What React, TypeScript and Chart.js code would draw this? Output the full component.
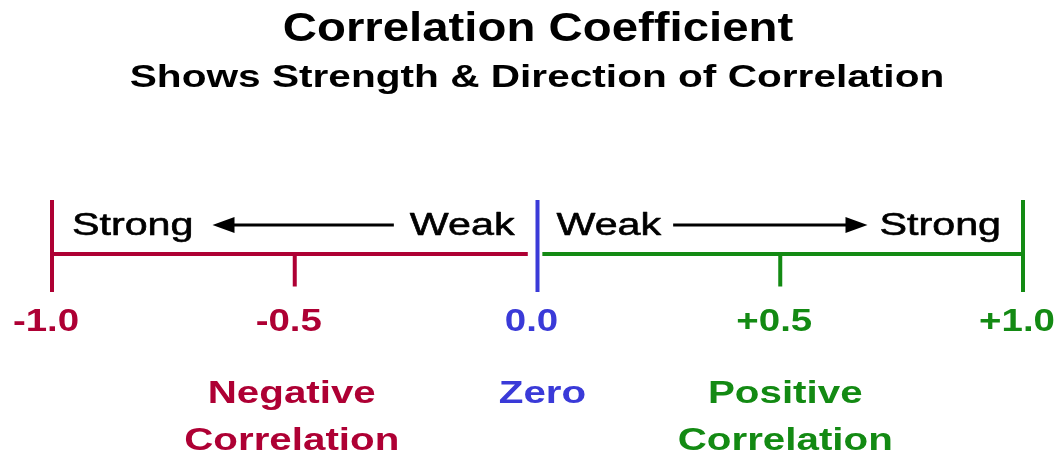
import React, { useEffect, useRef } from "react";
import { Chart, registerables } from "chart.js";

Chart.register(...registerables);

// ---- data ----
const TITLE = "Correlation Coefficient";
const SUBTITLE = "Shows Strength & Direction of Correlation";
const TICK_VALUES = [-1, -0.5, 0, 0.5, 1];
const TICK_LABELS = ["-1.0", "-0.5", "0.0", "+0.5", "+1.0"];
const TICK_TOP = [1, 0, 1, 0, 1];
const TICK_BOTTOM = [-0.7, -0.6, -0.7, -0.6, -0.7];
const NEGATIVE_RANGE = [-1, -0.02];
const POSITIVE_RANGE = [0.01, 1];
const ZONE_VALUES = [-0.5, 0, 0.5];
const ZONE_LABELS = [["Negative", "Correlation"], ["Zero"], ["Positive", "Correlation"]];
const STRONG_WORD = "Strong";
const WEAK_WORD = "Weak";

// ---- styles ----
const RED = "#AE0034";
const BLUE = "#3A3AD8";
const GREEN = "#138A13";
const TICK_COLORS = [RED, RED, BLUE, GREEN, GREEN];
const ZONE_COLORS = [RED, BLUE, GREEN];
const ZONE_DX = [-3, 5, 5];
const FAMILY = '"Liberation Sans", Arial, Helvetica, sans-serif';

function drawText(ctx: CanvasRenderingContext2D, text: string, x: number, y: number, align: CanvasTextAlign, font: string, color: string, sx: number, strokeW = 0) {
  ctx.save();
  ctx.font = font;
  ctx.fillStyle = color;
  ctx.strokeStyle = color;
  ctx.textAlign = align;
  ctx.textBaseline = "alphabetic";
  ctx.translate(x, y);
  ctx.scale(sx, 1);
  ctx.fillText(text, 0, 0);
  if (strokeW > 0) {
    ctx.lineWidth = strokeW;
    ctx.lineJoin = "round";
    ctx.strokeText(text, 0, 0);
  }
  ctx.restore();
}

function textWidth(ctx: CanvasRenderingContext2D, text: string, font: string, sx: number) {
  ctx.save();
  ctx.font = font;
  const w = ctx.measureText(text).width * sx;
  ctx.restore();
  return w;
}

function arrow(ctx: CanvasRenderingContext2D, x1: number, x2: number, y: number, headAtStart: boolean) {
  const head = 22;
  const half = 8;
  ctx.save();
  ctx.strokeStyle = "#000";
  ctx.fillStyle = "#000";
  ctx.lineWidth = 3;
  ctx.beginPath();
  if (headAtStart) {
    ctx.moveTo(x1 + head - 2, y);
    ctx.lineTo(x2, y);
  } else {
    ctx.moveTo(x1, y);
    ctx.lineTo(x2 - head + 2, y);
  }
  ctx.stroke();
  ctx.beginPath();
  if (headAtStart) {
    ctx.moveTo(x1, y);
    ctx.lineTo(x1 + head, y - half);
    ctx.lineTo(x1 + head, y + half);
  } else {
    ctx.moveTo(x2, y);
    ctx.lineTo(x2 - head, y - half);
    ctx.lineTo(x2 - head, y + half);
  }
  ctx.closePath();
  ctx.fill();
  ctx.restore();
}

const textPlugin = {
  id: "diagramText",
  afterDatasetsDraw(chart: any) {
    const ctx: CanvasRenderingContext2D = chart.ctx;
    const xs = chart.scales.x;
    const px = (v: number) => xs.getPixelForValue(v);
    const cx = chart.width / 2;

    drawText(ctx, TITLE, cx + 9, 41, "center", `bold 41px ${FAMILY}`, "#000", 1.155);
    drawText(ctx, SUBTITLE, cx + 8, 87, "center", `bold 31px ${FAMILY}`, "#000", 1.31);

    const wordFont = `31px ${FAMILY}`;
    const wsx = 1.33;
    const wStroke = 0.6;
    const wordY = 235;
    const arrowY = 225;
    const sW = textWidth(ctx, STRONG_WORD, wordFont, wsx);
    const wW = textWidth(ctx, WEAK_WORD, wordFont, wsx);
    // left side
    const lStrongX = px(-1) + 20;
    const lWeakRight = px(0) - 23;
    drawText(ctx, STRONG_WORD, lStrongX, wordY, "left", wordFont, "#000", wsx, wStroke);
    drawText(ctx, WEAK_WORD, lWeakRight, wordY, "right", wordFont, "#000", wsx, wStroke);
    arrow(ctx, lStrongX + sW + 19, lWeakRight - wW - 16, arrowY, true);
    // right side
    const rWeakX = px(0) + 19;
    const rStrongRight = px(1) - 22;
    drawText(ctx, WEAK_WORD, rWeakX, wordY, "left", wordFont, "#000", wsx, wStroke);
    drawText(ctx, STRONG_WORD, rStrongRight, wordY, "right", wordFont, "#000", wsx, wStroke);
    arrow(ctx, rWeakX + wW + 12, rStrongRight - sW - 12, arrowY, false);

    // tick labels
    const tickFont = `bold 32px ${FAMILY}`;
    TICK_VALUES.forEach((v, i) => {
      drawText(ctx, TICK_LABELS[i], px(v) - 6, 331, "center", tickFont, TICK_COLORS[i], 1.2);
    });

    // zone labels
    const zoneFont = `bold 32px ${FAMILY}`;
    ZONE_VALUES.forEach((v, i) => {
      ZONE_LABELS[i].forEach((line, j) => {
        drawText(ctx, line, px(v) + ZONE_DX[i], 403 + j * 47, "center", zoneFont, ZONE_COLORS[i], 1.26);
      });
    });
  },
};

export default function App() {
  const ref = useRef<HTMLCanvasElement | null>(null);
  useEffect(() => {
    if (!ref.current) return;
    let chart: Chart | null = null;
    let cancelled = false;
    const seg = (pts: { x: number; y: number }[], color: string) => ({
      data: pts,
      showLine: true,
      borderColor: color,
      backgroundColor: color,
      borderWidth: 4,
      pointRadius: 0,
      clip: false as any,
    });
    const build = () => {
      if (cancelled || !ref.current) return;
      const datasets: any[] = [
        seg(NEGATIVE_RANGE.map((x) => ({ x, y: 0 })), RED),
        seg(POSITIVE_RANGE.map((x) => ({ x, y: 0 })), GREEN),
        ...TICK_VALUES.map((v, i) =>
          seg([{ x: v, y: TICK_TOP[i] }, { x: v, y: TICK_BOTTOM[i] }], TICK_COLORS[i])
        ),
      ];
      chart = new Chart(ref.current, {
        type: "scatter",
        data: { datasets },
        options: {
          animation: false,
          responsive: false,
          events: [],
          layout: { padding: { left: 52, right: 35, top: 200, bottom: 165 } },
          plugins: { legend: { display: false }, tooltip: { enabled: false }, title: { display: false } },
          scales: {
            x: { type: "linear", min: -1, max: 1, display: false },
            y: { type: "linear", min: -0.7, max: 1, display: false },
          },
        },
        plugins: [textPlugin],
      });
    };
    const fonts: any = (document as any).fonts;
    if (fonts && fonts.load) {
      Promise.all([
        fonts.load('bold 32px "Liberation Sans"'),
        fonts.load('32px "Liberation Sans"'),
      ]).then(build, build);
    } else {
      build();
    }
    return () => {
      cancelled = true;
      if (chart) chart.destroy();
    };
  }, []);
  return (
    <div style={{ position: "absolute", left: 0, top: 0, width: 1058, height: 457, background: "#fff" }}>
      <canvas ref={ref} width={1058} height={457} style={{ display: "block" }} />
    </div>
  );
}
